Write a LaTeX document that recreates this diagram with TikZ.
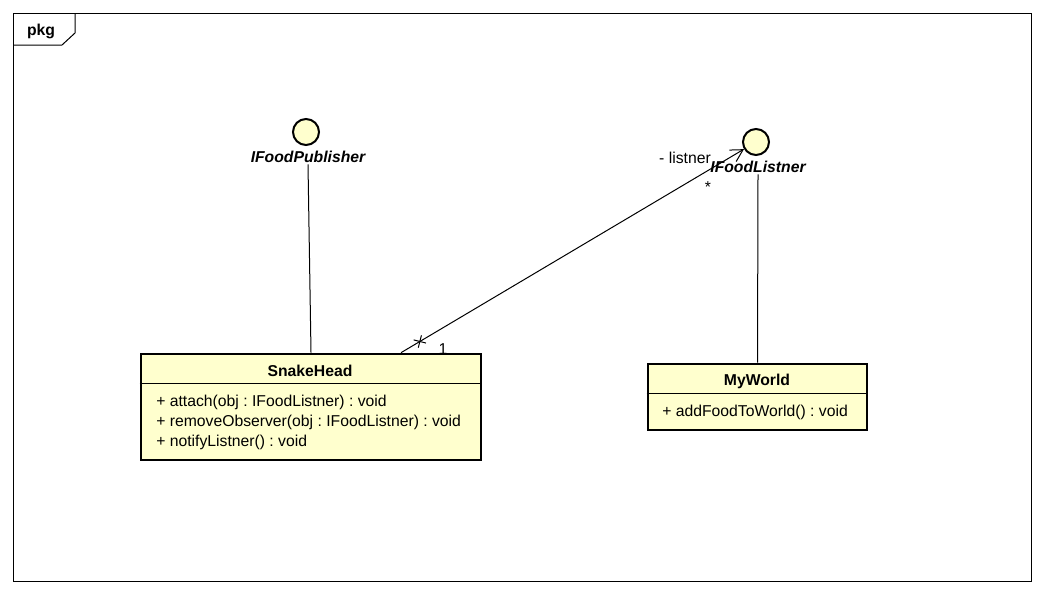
\documentclass[tikz,border=0pt]{standalone}
\usepackage{fontspec}
\setmainfont{Liberation Sans}
\usetikzlibrary{arrows.meta, positioning, shapes.misc}

\definecolor{classfill}{RGB}{255,255,206}
\frenchspacing

\begin{document}
\begin{tikzpicture}[x=0.75pt, y=-0.75pt,
    font=\fontsize{11.8}{14}\selectfont,
    classbox/.style={rectangle, draw, line width=2pt, fill=classfill, inner sep=0pt},
    iface/.style={circle, draw, line width=1.5pt, fill=classfill, minimum size=19.5pt, inner sep=0pt},
    ifacename/.style={font=\fontsize{11.8}{14}\selectfont\bfseries\itshape, inner sep=1pt},
    opname/.style={anchor=west, inner sep=0pt},
    link/.style={line width=0.75pt},
    arrow/.style={-{Straight Barb[length=9pt, width=10pt]}, line width=0.75pt}
]

\useasboundingbox (0,0) rectangle (1044,594);

% package frame
\draw[line width=0.75pt] (13,13) rectangle (1031,581);
\draw[line width=0.75pt] (13,45) -- (62,45) -- (75,33) -- (75,13);
\node[font=\fontsize{11.8}{14}\selectfont\bfseries] (pkg) at (41,31) {pkg};

% interfaces
\node[iface] (pubIcon) at (306,132) {};
\node[ifacename] (pubLabel) at (308,157) {IFoodPublisher};
\node[iface] (lisIcon) at (756,142) {};
\node[ifacename] (lisLabel) at (758,167) {IFoodListner};

% classes
\node[classbox, minimum width=255pt, minimum height=79.5pt] (snake) at (311,407) {};
\draw[line width=0.75pt] (snake.north west) ++(0,31) -- ++(340,0);
\node[font=\fontsize{11.8}{14}\selectfont\bfseries] (snakeName) at (310,371) {SnakeHead};
\node[opname] (snakeOpA) at (156,402) {+ attach(obj : IFoodListner) : void};
\node[opname] (snakeOpB) at (156,422) {+ removeObserver(obj : IFoodListner) : void};
\node[opname] (snakeOpC) at (156,442) {+ notifyListner() : void};

\node[classbox, minimum width=164.25pt, minimum height=49.5pt] (world) at (757.5,397) {};
\draw[line width=0.75pt] (world.north west) ++(0,31) -- ++(219,0);
\node[font=\fontsize{11.8}{14}\selectfont\bfseries] (worldName) at (757,381) {MyWorld};
\node[opname] (worldOp) at (662,412) {+ addFoodToWorld() : void};

% realizations
\draw[link] (pubLabel.south) -- (snake.north);
\draw[link] (lisLabel.south) -- (world.north);

% association
\coordinate (assocStart) at ([xshift=67.5pt]snake.north);
\draw[arrow] (assocStart) -- (lisIcon)
    node[pos=0.055, sloped, draw, cross out, line width=0.75pt, minimum size=6pt, inner sep=0pt] (noNav) {};
\node (multOne) at (443,349) {1};
\node (roleName) at (685,158) {- listner};
\node (multMany) at (708,187) {*};

\end{tikzpicture}
\end{document}
